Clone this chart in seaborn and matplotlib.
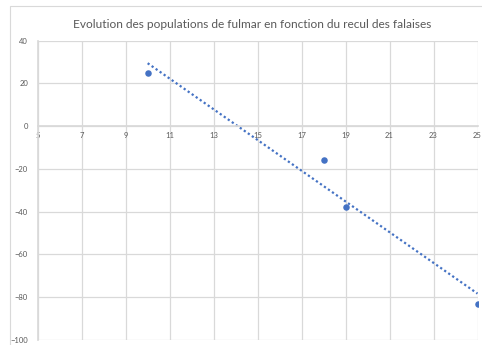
import matplotlib
matplotlib.use("Agg")
import matplotlib.pyplot as plt
import seaborn as sns
import numpy as np
import pandas as pd
from matplotlib.patches import Rectangle

# Cliff retreat (x) vs. fulmar population change (y)
recul = [10, 18, 19, 25]
evolution = [25, -16, -38, -83]
x_ticks = [5, 7, 9, 11, 13, 15, 17, 19, 21, 23, 25]
y_ticks = [-100, -80, -60, -40, -20, 0, 20, 40]
title = "Evolution des populations de fulmar en fonction du recul des falaises"

df = pd.DataFrame({"recul": recul, "evolution": evolution})

sns.set_theme(style="white")
plt.rcParams["font.family"] = ["Lato", "DejaVu Sans"]

blue = "#4472C4"
grid = "#d9d9d9"
text = "#595959"

fig = plt.figure(figsize=(4.82, 3.45), dpi=100)
fig.patches.append(Rectangle((10 / 482, -0.1), 1.0, 1 - 6 / 345 + 0.1,
                             transform=fig.transFigure, fill=False,
                             edgecolor=grid, linewidth=0.8))
ax = fig.add_axes([37.7 / 482, 1 - 340 / 345, (477.5 - 37.7) / 482, (340 - 40.7) / 345])

# Linear trendline fitted over the observed range
sns.regplot(data=df, x="recul", y="evolution", ax=ax, ci=None, scatter=False,
            truncate=True, color=blue,
            line_kws={"linestyle": (0, (1, 1.2)), "linewidth": 1.6})
sns.scatterplot(data=df, x="recul", y="evolution", ax=ax, color=blue,
                s=22, edgecolor=blue, linewidth=0, zorder=3)

ax.set_xlim(5, 25)
ax.set_ylim(-100, 40)
ax.set_xticks(x_ticks)
ax.set_yticks(y_ticks)
ax.grid(True, color=grid, linewidth=0.9)
ax.set_axisbelow(True)
for s in ["top", "right"]:
    ax.spines[s].set_visible(False)
ax.spines["left"].set_color(grid)
ax.spines["bottom"].set_color(grid)
ax.spines["bottom"].set_position(("data", 0))
ax.tick_params(axis="both", length=0, labelsize=5.5, labelcolor=text)
ax.tick_params(axis="x", pad=4)
ax.tick_params(axis="y", pad=7)
ax.set_xlabel("")
ax.set_ylabel("")
fig.text(0.5 * (72 + 432) / 482, 1 - 25 / 345, title, ha="center", va="center",
         fontsize=8.6, color=text)

fig.savefig("out.png", dpi=100)
